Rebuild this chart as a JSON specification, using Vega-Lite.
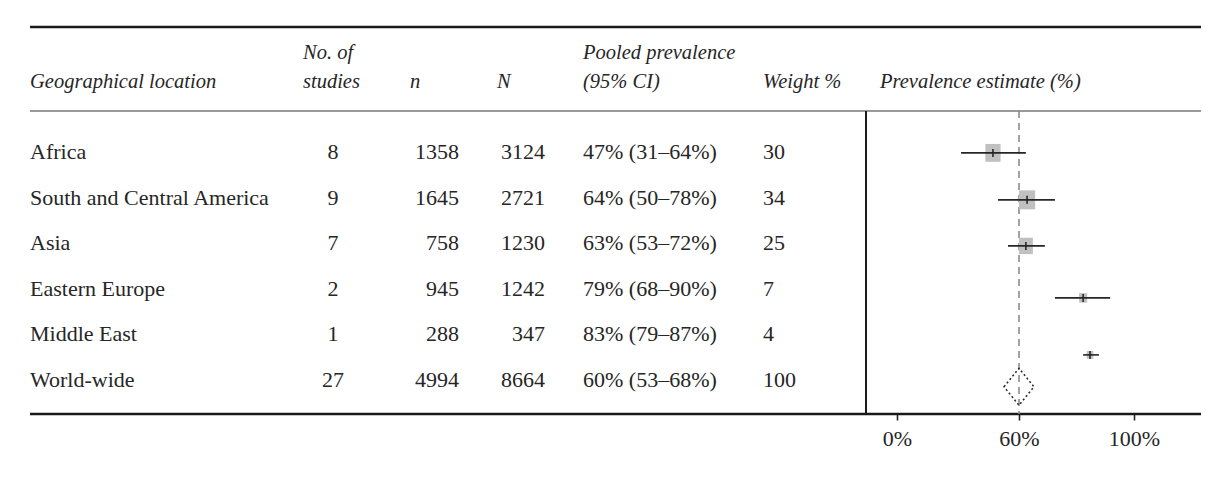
{
  "$schema": "https://vega.github.io/schema/vega-lite/v6.json",
  "width": 1208,
  "height": 414,
  "autosize": {"type": "none"},
  "padding": {"left": 0, "top": 0, "right": 0, "bottom": 66},
  "background": "white",
  "config": {
    "view": {"stroke": null},
    "text": {"font": "Liberation Serif", "fontSize": 22, "color": "#262626", "baseline": "middle"}
  },
  "datasets": {
    "rows": [
      {"r": 1, "loc": "Africa", "k": "8", "n": "1358", "N": "3124", "pp": "47% (31–64%)", "w": 30},
      {"r": 2, "loc": "South and Central America", "k": "9", "n": "1645", "N": "2721", "pp": "64% (50–78%)", "w": 34},
      {"r": 3, "loc": "Asia", "k": "7", "n": "758", "N": "1230", "pp": "63% (53–72%)", "w": 25},
      {"r": 4, "loc": "Eastern Europe", "k": "2", "n": "945", "N": "1242", "pp": "79% (68–90%)", "w": 7},
      {"r": 5, "loc": "Middle East", "k": "1", "n": "288", "N": "347", "pp": "83% (79–87%)", "w": 4},
      {"r": 6, "loc": "World-wide", "k": "27", "n": "4994", "N": "8664", "pp": "60% (53–68%)", "w": 100}
    ],
    "forest": [
      {"r": 1, "est": 47.2, "lo": 31.5, "hi": 62.4, "ypos": 1.02, "w": 30},
      {"r": 2, "est": 62.8, "lo": 49.7, "hi": 72.5, "ypos": 2.05, "w": 34},
      {"r": 3, "est": 62.4, "lo": 54.6, "hi": 69.0, "ypos": 3.06, "w": 25},
      {"r": 4, "est": 82.3, "lo": 72.5, "hi": 91.7, "ypos": 4.2, "w": 7},
      {"r": 5, "est": 84.7, "lo": 82.3, "hi": 87.8, "ypos": 5.45, "w": 4},
      {"r": 6, "est": 60, "lo": 52.6, "hi": 65.2, "ypos": 6.15, "w": 100}
    ]
  },
  "resolve": {"scale": {"x": "independent"}},
  "layer": [
    {
      "data": {"name": "rows"},
      "layer": [
        {
          "mark": {"type": "text", "align": "left"},
          "encoding": {
            "x": {"datum": 30, "type": "quantitative", "scale": {"domain": [0, 1208], "nice": false, "zero": false}, "axis": null},
            "y": {"field": "r", "type": "quantitative", "scale": {"domain": [-2.333, 6.746], "reverse": true, "nice": false, "zero": false}, "axis": null},
            "text": {"field": "loc"}
          }
        },
        {
          "mark": {"type": "text", "align": "center"},
          "encoding": {
            "x": {"datum": 333, "type": "quantitative", "axis": null},
            "y": {"field": "r", "type": "quantitative", "axis": null},
            "text": {"field": "k"}
          }
        },
        {
          "mark": {"type": "text", "align": "right"},
          "encoding": {
            "x": {"datum": 459, "type": "quantitative", "axis": null},
            "y": {"field": "r", "type": "quantitative", "axis": null},
            "text": {"field": "n"}
          }
        },
        {
          "mark": {"type": "text", "align": "right"},
          "encoding": {
            "x": {"datum": 545, "type": "quantitative", "axis": null},
            "y": {"field": "r", "type": "quantitative", "axis": null},
            "text": {"field": "N"}
          }
        },
        {
          "mark": {"type": "text", "align": "left"},
          "encoding": {
            "x": {"datum": 583, "type": "quantitative", "axis": null},
            "y": {"field": "r", "type": "quantitative", "axis": null},
            "text": {"field": "pp"}
          }
        },
        {
          "mark": {"type": "text", "align": "left"},
          "encoding": {
            "x": {"datum": 763, "type": "quantitative", "axis": null},
            "y": {"field": "r", "type": "quantitative", "axis": null},
            "text": {"field": "w"}
          }
        },
        {
          "data": {"values": [{}]},
          "mark": {"type": "text", "align": "left", "fontStyle": "italic", "fontSize": 20.5, "text": "Geographical location"},
          "encoding": {"x": {"datum": 30, "type": "quantitative", "axis": null}, "y": {"datum": -0.535, "type": "quantitative", "axis": null}}
        },
        {
          "data": {"values": [{}]},
          "mark": {"type": "text", "align": "left", "fontStyle": "italic", "fontSize": 20.5, "text": "No. of"},
          "encoding": {"x": {"datum": 303, "type": "quantitative", "axis": null}, "y": {"datum": -1.171, "type": "quantitative", "axis": null}}
        },
        {
          "data": {"values": [{}]},
          "mark": {"type": "text", "align": "left", "fontStyle": "italic", "fontSize": 20.5, "text": "studies"},
          "encoding": {"x": {"datum": 303, "type": "quantitative", "axis": null}, "y": {"datum": -0.535, "type": "quantitative", "axis": null}}
        },
        {
          "data": {"values": [{}]},
          "mark": {"type": "text", "align": "left", "fontStyle": "italic", "fontSize": 20.5, "text": "n"},
          "encoding": {"x": {"datum": 410, "type": "quantitative", "axis": null}, "y": {"datum": -0.535, "type": "quantitative", "axis": null}}
        },
        {
          "data": {"values": [{}]},
          "mark": {"type": "text", "align": "left", "fontStyle": "italic", "fontSize": 20.5, "text": "N"},
          "encoding": {"x": {"datum": 497, "type": "quantitative", "axis": null}, "y": {"datum": -0.535, "type": "quantitative", "axis": null}}
        },
        {
          "data": {"values": [{}]},
          "mark": {"type": "text", "align": "left", "fontStyle": "italic", "fontSize": 20.5, "text": "Pooled prevalence"},
          "encoding": {"x": {"datum": 583, "type": "quantitative", "axis": null}, "y": {"datum": -1.171, "type": "quantitative", "axis": null}}
        },
        {
          "data": {"values": [{}]},
          "mark": {"type": "text", "align": "left", "fontStyle": "italic", "fontSize": 20.5, "text": "(95% CI)"},
          "encoding": {"x": {"datum": 583, "type": "quantitative", "axis": null}, "y": {"datum": -0.535, "type": "quantitative", "axis": null}}
        },
        {
          "data": {"values": [{}]},
          "mark": {"type": "text", "align": "left", "fontStyle": "italic", "fontSize": 20.5, "text": "Weight %"},
          "encoding": {"x": {"datum": 763, "type": "quantitative", "axis": null}, "y": {"datum": -0.535, "type": "quantitative", "axis": null}}
        },
        {
          "data": {"values": [{}]},
          "mark": {"type": "text", "align": "left", "fontStyle": "italic", "fontSize": 20.5, "text": "Prevalence estimate (%)"},
          "encoding": {"x": {"datum": 880, "type": "quantitative", "axis": null}, "y": {"datum": -0.535, "type": "quantitative", "axis": null}}
        },
        {
          "data": {"values": [{}]},
          "mark": {"type": "rule", "stroke": "#1a1a1a", "strokeWidth": 2.5},
          "encoding": {"x": {"datum": 30, "type": "quantitative", "axis": null}, "x2": {"datum": 1201}, "y": {"datum": -1.741, "type": "quantitative", "axis": null}}
        },
        {
          "data": {"values": [{}]},
          "mark": {"type": "rule", "stroke": "#9a9a9a", "strokeWidth": 2},
          "encoding": {"x": {"datum": 30, "type": "quantitative", "axis": null}, "x2": {"datum": 1201}, "y": {"datum": 0.101, "type": "quantitative", "axis": null}}
        },
        {
          "data": {"values": [{}]},
          "mark": {"type": "rule", "stroke": "#1a1a1a", "strokeWidth": 2.5},
          "encoding": {"x": {"datum": 30, "type": "quantitative", "axis": null}, "x2": {"datum": 1201}, "y": {"datum": 6.746, "type": "quantitative", "axis": null}}
        },
        {
          "data": {"values": [{}]},
          "mark": {"type": "rule", "stroke": "#1a1a1a", "strokeWidth": 2},
          "encoding": {"x": {"datum": 866, "type": "quantitative", "axis": null}, "y": {"datum": 0.101, "type": "quantitative", "axis": null}, "y2": {"datum": 6.746}}
        }
      ]
    },
    {
      "data": {"name": "forest"},
      "layer": [
        {
          "data": {"values": [{}]},
          "mark": {"type": "rule", "stroke": "#8c8c8c", "strokeWidth": 1.6, "strokeDash": [7, 5]},
          "encoding": {
            "x": {"datum": 60, "type": "quantitative", "scale": {"domain": [0, 60, 100], "range": [897, 1019, 1134], "nice": false, "zero": false},
              "axis": {"values": [0, 60, 100], "labelExpr": "datum.value + '%'", "labelFlush": false, "labelOverlap": false, "domain": false, "grid": false, "ticks": true, "tickSize": 6, "tickColor": "#262626", "tickWidth": 1.6, "labelFont": "Liberation Serif", "labelFontSize": 22, "labelColor": "#262626", "labelPadding": 8, "title": null, "orient": "bottom"}},
            "y": {"datum": 0.101, "type": "quantitative", "axis": null},
            "y2": {"datum": 6.746}
          }
        },
        {
          "transform": [{"filter": "datum.r < 6"}],
          "mark": {"type": "point", "shape": "M-0.85,-1L0.85,-1L0.85,1L-0.85,1Z", "filled": true, "color": "#c0c0c0", "opacity": 1, "strokeWidth": 0},
          "encoding": {
            "x": {"field": "est", "type": "quantitative"},
            "y": {"field": "ypos", "type": "quantitative", "axis": null},
            "size": {"field": "w", "type": "quantitative", "scale": {"domain": [0, 34], "range": [20, 360]}, "legend": null}
          }
        },
        {
          "transform": [{"filter": "datum.r < 6"}],
          "mark": {"type": "rule", "stroke": "#262626", "strokeWidth": 1.6},
          "encoding": {
            "x": {"field": "lo", "type": "quantitative"},
            "x2": {"field": "hi"},
            "y": {"field": "ypos", "type": "quantitative", "axis": null}
          }
        },
        {
          "transform": [{"filter": "datum.r < 6"}],
          "mark": {"type": "point", "shape": "M0,-1L0,1", "filled": false, "stroke": "#262626", "strokeWidth": 1.6, "opacity": 1, "size": 64},
          "encoding": {
            "x": {"field": "est", "type": "quantitative"},
            "y": {"field": "ypos", "type": "quantitative", "axis": null}
          }
        },
        {
          "transform": [{"filter": "datum.r == 6"}],
          "mark": {"type": "point", "shape": "M-0.81,0L0,-1L0.81,0L0,1Z", "filled": false, "stroke": "#262626", "strokeWidth": 1.5, "strokeDash": [2, 2.5], "opacity": 1, "size": 1369},
          "encoding": {
            "x": {"field": "est", "type": "quantitative"},
            "y": {"field": "ypos", "type": "quantitative", "axis": null}
          }
        }
      ]
    }
  ]
}
